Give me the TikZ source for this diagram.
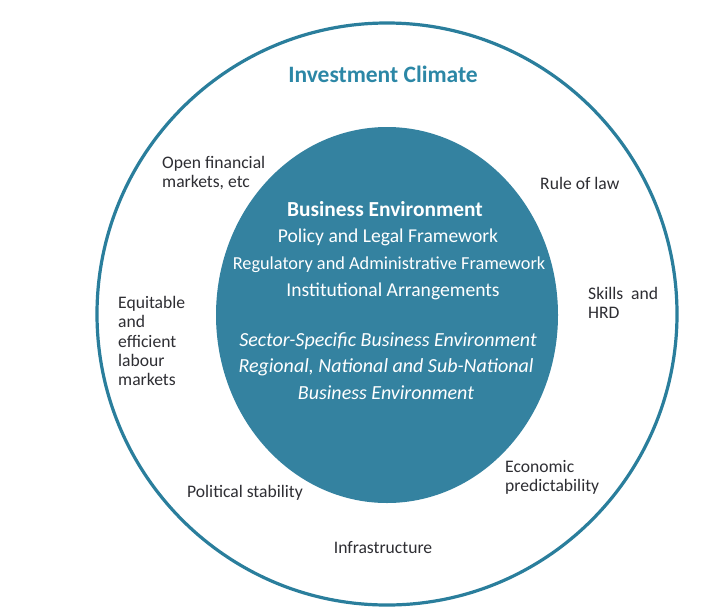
\documentclass[tikz,border=0pt]{standalone}
\usepackage{fontspec}
\setmainfont{Carlito}
\definecolor{ringblue}{HTML}{2A7E9C}
\definecolor{fillblue}{HTML}{3482A0}
\definecolor{titleblue}{HTML}{2C87A6}
\definecolor{labelgray}{HTML}{2E2E33}
\tikzset{
  ring/.style={draw=ringblue, line width=3.2pt},
  core/.style={fill=fillblue, draw=none},
  lbl/.style={text=labelgray, inner sep=0pt, align=left, font=\fontsize{17.6}{19.2}\selectfont},
  inn/.style={text=white, inner sep=0pt, font=\fontsize{19.6}{22}\selectfont},
  inb/.style={inn, font=\fontsize{21.4}{24}\selectfont\bfseries},
  ini/.style={inn, font=\fontsize{20}{22}\selectfont\itshape},
  ttl/.style={text=titleblue, inner sep=0pt, font=\fontsize{23.5}{26}\selectfont\bfseries}
}
\begin{document}
\begin{tikzpicture}[x=1pt,y=-1pt]
\useasboundingbox[fill=white] (0,0) rectangle (706,608);
\draw[ring] (387,314) ellipse [x radius=290pt, y radius=291pt];
\fill[core] (387,315) ellipse [x radius=171pt, y radius=188pt];

\node[ttl] (title) at (383,74) {Investment Climate};

\node[inb] (be) at (385,209) {Business Environment};
\node[inn] (plf) at (388,237) {Policy and Legal Framework};
\node[inn, font=\fontsize{18.3}{22}\selectfont] (raf) at (389,265) {Regulatory and Administrative Framework};
\node[inn] (ia) at (393,291) {Institutional Arrangements};
\node[ini] (ssbe) at (388,341) {Sector-Specific Business Environment};
\node[ini] (rnsn) at (386,367) {Regional, National and Sub-National};
\node[ini] (be2) at (386,393) {Business Environment};

\node[lbl, anchor=west] (ofm) at (162,173) {Open financial\\markets, etc};
\node[lbl, anchor=west] (eel) at (118,341) {Equitable\\and\\efficient\\labour\\markets};
\node[lbl, anchor=west] (rol) at (540,183) {Rule of law};
\node[lbl, anchor=west] (skl) at (588,303) {Skills~~and\\HRD};
\node[lbl, anchor=west] (ecp) at (505,477) {Economic\\predictability};
\node[lbl] (pol) at (245,493) {Political stability};
\node[lbl] (inf) at (383,548) {Infrastructure};
\end{tikzpicture}
\end{document}
